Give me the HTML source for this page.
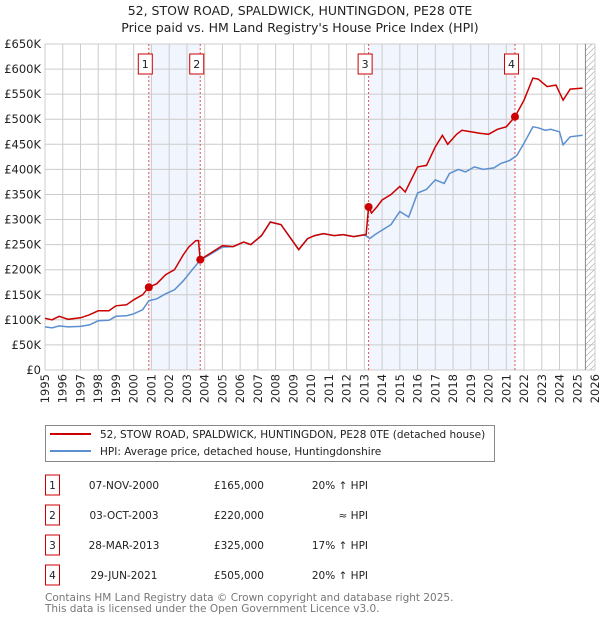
<!DOCTYPE html>
<html><head><meta charset="utf-8"><style>
body{margin:0;background:#fff;font-family:"DejaVu Sans","Liberation Sans",sans-serif;}
svg text{font-family:"DejaVu Sans","Liberation Sans",sans-serif;}
</style></head><body>
<svg id="c" width="600" height="620" viewBox="0 0 600 620" xmlns="http://www.w3.org/2000/svg">
<defs><pattern id="hatch" width="6" height="6" patternUnits="userSpaceOnUse"><path d="M0,6 L6,0" stroke="#bbb" stroke-width="0.8"/></pattern></defs>
<text x="300" y="15" text-anchor="middle" font-size="12.5" fill="#222">52, STOW ROAD, SPALDWICK, HUNTINGDON, PE28 0TE</text>
<text x="300" y="32" text-anchor="middle" font-size="12.5" fill="#222">Price paid vs. HM Land Registry's House Price Index (HPI)</text>
<g id="plot"></g>
<g>
<rect x="45.5" y="425.5" width="449" height="36" fill="#fff" stroke="#888"/>
<line x1="50" y1="434" x2="91" y2="434" stroke="#cc0000" stroke-width="2"/>
<text x="100" y="438" font-size="10.5" fill="#222">52, STOW ROAD, SPALDWICK, HUNTINGDON, PE28 0TE (detached house)</text>
<line x1="50" y1="451" x2="91" y2="451" stroke="#5b8fd0" stroke-width="2"/>
<text x="100" y="455" font-size="10.5" fill="#222">HPI: Average price, detached house, Huntingdonshire</text>
</g>
<g id="table" font-size="10.5" fill="#222"></g>
<text x="45" y="601" font-size="10.5" fill="#777">Contains HM Land Registry data © Crown copyright and database right 2025.</text>
<text x="45" y="612" font-size="10.5" fill="#777">This data is licensed under the Open Government Licence v3.0.</text>
</svg>
<script>
const yTicks=[0,50,100,150,200,250,300,350,400,450,500,550,600,650];
const yLabels=["£0","£50K","£100K","£150K","£200K","£250K","£300K","£350K","£400K","£450K","£500K","£550K","£600K","£650K"];
const years=[1995,1996,1997,1998,1999,2000,2001,2002,2003,2004,2005,2006,2007,2008,2009,2010,2011,2012,2013,2014,2015,2016,2017,2018,2019,2020,2021,2022,2023,2024,2025,2026];
const saleLabels=["1","2","3","4"];
const saleDates=[2000.85,2003.75,2013.24,2021.49];
const salePrices=[165,220,325,505];
const saleDateText=["07-NOV-2000","03-OCT-2003","28-MAR-2013","29-JUN-2021"];
const salePriceText=["£165,000","£220,000","£325,000","£505,000"];
const saleHpiText=["20% ↑ HPI","≈ HPI","17% ↑ HPI","20% ↑ HPI"];
const hpiT=[1995,1995.4,1995.8,1996.3,1997,1997.5,1998,1998.6,1999,1999.6,2000,2000.5,2000.85,2001.3,2001.8,2002.3,2002.8,2003.3,2003.75,2004.2,2005,2005.6,2006.2,2006.6,2007.2,2007.7,2008.3,2008.8,2009.3,2009.8,2010.2,2010.7,2011.3,2011.8,2012.4,2013,2013.3,2013.6,2014,2014.5,2015,2015.5,2016,2016.5,2017,2017.5,2017.8,2018.3,2018.7,2019.2,2019.7,2020.3,2020.7,2021.2,2021.6,2022,2022.5,2022.8,2023.2,2023.5,2024,2024.2,2024.6,2025.3];
const hpiV=[86,84,88,86,87,90,98,99,107,108,112,120,138,142,152,160,178,200,219,228,245,246,255,250,268,295,290,265,240,262,268,272,268,270,266,270,262,270,279,290,316,305,353,360,379,372,392,400,395,405,400,403,412,418,428,452,485,483,478,480,475,449,465,468];
const redT=[1995,1995.4,1995.8,1996.3,1997,1997.5,1998,1998.6,1999,1999.6,2000,2000.5,2000.85,2001.3,2001.8,2002.3,2002.8,2003.1,2003.5,2003.65,2003.75,2004.2,2005,2005.6,2006.2,2006.6,2007.2,2007.7,2008.3,2008.8,2009.3,2009.8,2010.2,2010.7,2011.3,2011.8,2012.4,2013.1,2013.24,2013.4,2013.7,2014,2014.5,2015,2015.3,2016,2016.5,2017,2017.4,2017.7,2018.2,2018.5,2019,2019.5,2020,2020.5,2021,2021.49,2022,2022.5,2022.8,2023.3,2023.8,2024.2,2024.6,2025.3];
const redV=[103,100,107,101,104,110,118,118,128,130,140,150,165,172,190,200,230,245,258,258,220,230,248,246,255,250,268,295,290,265,240,262,268,272,268,270,266,270,325,313,325,339,350,366,355,405,408,445,468,450,470,478,475,472,470,480,485,505,538,582,580,565,568,538,560,562];
const X0=45,X1=595,Y0=370,Y1=44;
const xs=t=>X0+(t-1995)/(2026-1995)*(X1-X0);
const ys=v=>Y0-v/650*(Y0-Y1);
const NS="http://www.w3.org/2000/svg";
const plot=document.getElementById('plot');
function mk(tag,attrs,parent){const e=document.createElementNS(NS,tag);for(const k in attrs)e.setAttribute(k,attrs[k]);(parent||plot).appendChild(e);return e;}
for(let i=0;i<4;i+=2){const r=mk('rect',{x:xs(saleDates[i]),y:Y1,width:xs(saleDates[i+1])-xs(saleDates[i]),height:Y0-Y1,fill:'#eef3fc',opacity:0.8});

}
years.forEach(y=>{const l=mk('line',{x1:xs(y),x2:xs(y),y1:Y1,y2:Y0,stroke:'#ccc','stroke-width':1});


const tx=xs(y)+4,ty=Y0+4;
const t=mk('text',{x:tx,y:ty,'text-anchor':'end','font-size':11.5,fill:'#222',transform:'rotate(-90 '+tx+' '+ty+')'});t.textContent=y;

});
yTicks.forEach((v,i)=>{const l=mk('line',{x1:X0,x2:X1,y1:ys(v),y2:ys(v),stroke:'#ccc','stroke-width':1});


const t=mk('text',{x:X0-4,y:ys(v)+4,'text-anchor':'end','font-size':11.5,fill:'#222'});t.textContent=yLabels[i];

});
const hx=xs(2025.46);
const h=mk('rect',{x:hx,y:Y1,width:X1-hx,height:Y0-Y1,fill:'url(#hatch)'});


mk('line',{x1:hx,x2:hx,y1:Y1,y2:Y0,stroke:'#888','stroke-width':1});
saleDates.forEach((d,i)=>{const l=mk('line',{x1:xs(d),x2:xs(d),y1:Y1,y2:Y0,stroke:'#e05555','stroke-width':1,'stroke-dasharray':'2,2'});


const g=mk('g',{});


mk('rect',{x:xs(d)-10.5,y:54,width:14,height:20,fill:'#fff',stroke:'#cc0000'},g);
const t=mk('text',{x:xs(d)-3.5,y:68,'text-anchor':'middle','font-size':11,fill:'#222'},g);
t.textContent=saleLabels[i];});
function path(T,V){return T.map((t,i)=>(i?'L':'M')+xs(t).toFixed(1)+','+ys(V[i]).toFixed(1)).join(' ');}
const hp=mk('path',{d:path(hpiT,hpiV),fill:'none',stroke:'#5b8fd0','stroke-width':1.5});


const rp=mk('path',{d:path(redT,redV),fill:'none',stroke:'#cc0000','stroke-width':1.5});


saleDates.forEach((d,i)=>{const c=mk('circle',{cx:xs(d),cy:ys(salePrices[i]),r:4,fill:'#cc0000'});

});
const tb=document.getElementById('table');
saleLabels.forEach((s,i)=>{const y=485+i*30;
const g=mk('g',{},tb);


mk('rect',{x:45.5,y:y-10,width:14,height:20,fill:'#fff',stroke:'#cc0000'},g);
const a=mk('text',{x:52.5,y:y+4,'text-anchor':'middle'},g);a.textContent=s;
const b=mk('text',{x:124,y:y+4,'text-anchor':'middle'},g);b.textContent=saleDateText[i];
const c=mk('text',{x:264,y:y+4,'text-anchor':'end'},g);c.textContent=salePriceText[i];
const e=mk('text',{x:368,y:y+4,'text-anchor':'end'},g);e.textContent=saleHpiText[i];});
</script>
</body></html>
